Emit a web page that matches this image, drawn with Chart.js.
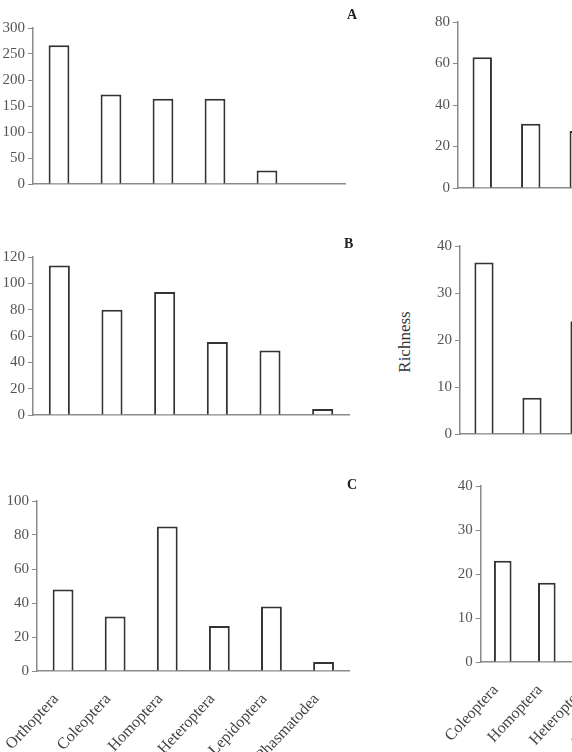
<!DOCTYPE html>
<html>
<head>
<meta charset="utf-8">
<script src="https://cdn.jsdelivr.net/npm/chart.js@4.4.0/dist/chart.umd.min.js"></script>
<style>
html, body { margin: 0; padding: 0; background: #fff; }
#page { position: relative; width: 572px; height: 752px; overflow: hidden; }
#page canvas { position: absolute; }
.tag { position: absolute; font-family: 'Liberation Serif', serif; font-weight: bold; font-size: 14px; line-height: 14px; color: #222; }
#rich { position: absolute; left: 355px; top: 332px; width: 100px; height: 20px; line-height: 20px; text-align: center;
  font-family: 'Liberation Serif', serif; font-size: 17px; color: #333; transform: rotate(-90deg); }
</style>
</head>
<body>
<div id="page">
  <canvas id="leftA"></canvas>
  <canvas id="leftB"></canvas>
  <canvas id="leftC"></canvas>
  <canvas id="rightA"></canvas>
  <canvas id="rightB"></canvas>
  <canvas id="rightC"></canvas>
  <div class="tag" style="left:347px;top:8px;">A</div>
  <div class="tag" style="left:344px;top:237px;">B</div>
  <div class="tag" style="left:347px;top:478px;">C</div>
  <div id="rich">Richness</div>
</div>
<script>
// orders (left panels: abundance, right panels: richness)
var orders = ['Orthoptera', 'Coleoptera', 'Homoptera', 'Heteroptera', 'Lepidoptera', 'Phasmatodea'];
var abundanceA = [267, 172, 164, 164, 26, 0];
var abundanceB = [113.5, 80, 93.5, 55.5, 49, 4.6];
var abundanceC = [48, 32, 85, 26.5, 38, 5.3];

var ordersRight = ['Coleoptera', 'Homoptera', 'Heteroptera', 'Lepidoptera'];
var richnessA = [63, 31, 27.5, null];
var richnessB = [36.5, 7.7, 24, null];
var richnessC = [23, 18, null, null];

// y axis ranges [max, step]
var yAxisLeft = [[300, 50], [120, 20], [100, 20]];
var yAxisRight = [[80, 20], [40, 10], [40, 10]];

Chart.defaults.font.family = "'Liberation Serif', 'Times New Roman', serif";

var YW = 45, PT = 15, PR = 5;

function makeChart(id, box, labels, values, axis, showLabels) {
    var xh = showLabels ? 100 : 20;
    var cv = document.getElementById(id);
    cv.width = box.r - box.l + YW + PR;
    cv.height = box.b - box.t + PT + xh;
    cv.style.left = (box.l - YW) + 'px';
    cv.style.top = (box.t - PT) + 'px';

    return new Chart(cv.getContext('2d'), {
        type: 'bar',
        data: {
            labels: labels,
            datasets: [{
                data: values,
                backgroundColor: '#ffffff',
                borderColor: '#333333',
                borderWidth: 2,
                barPercentage: 0.4,
                categoryPercentage: 1
            }]
        },
        options: {
            responsive: false,
            animation: false,
            layout: { padding: { top: PT, right: PR, left: 0, bottom: 0 } },
            plugins: { legend: { display: false }, tooltip: { enabled: false } },
            scales: {
                x: {
                    grid: { display: false, drawTicks: false },
                    border: { color: '#8a8a8a', width: 1.5 },
                    ticks: {
                        display: showLabels,
                        autoSkip: false,
                        minRotation: 47,
                        maxRotation: 47,
                        padding: 19,
                        labelOffset: -7,
                        color: '#444',
                        font: { size: 16 }
                    },
                    afterFit: function (s) { s.height = xh; }
                },
                y: {
                    min: 0,
                    max: axis[0],
                    grid: { drawOnChartArea: false, drawTicks: true, tickLength: 5, color: '#8a8a8a' },
                    border: { color: '#8a8a8a', width: 1.5 },
                    ticks: { stepSize: axis[1], padding: 3, color: '#555', font: { size: 15 } },
                    afterFit: function (s) { s.width = YW; }
                }
            }
        }
    });
}

makeChart('leftA', { l: 33, r: 345, t: 28, b: 184 }, orders, abundanceA, yAxisLeft[0], false);
makeChart('leftB', { l: 33, r: 349, t: 257, b: 415 }, orders, abundanceB, yAxisLeft[1], false);
makeChart('leftC', { l: 37, r: 352, t: 501, b: 671 }, orders, abundanceC, yAxisLeft[2], true);
makeChart('rightA', { l: 458, r: 652, t: 22, b: 188 }, ordersRight, richnessA, yAxisRight[0], false);
makeChart('rightB', { l: 460, r: 652, t: 246, b: 434 }, ordersRight, richnessB, yAxisRight[1], false);
makeChart('rightC', { l: 476, r: 663, t: 486, b: 662 }, ordersRight, richnessC, yAxisRight[2], true);
</script>
</body>
</html>
